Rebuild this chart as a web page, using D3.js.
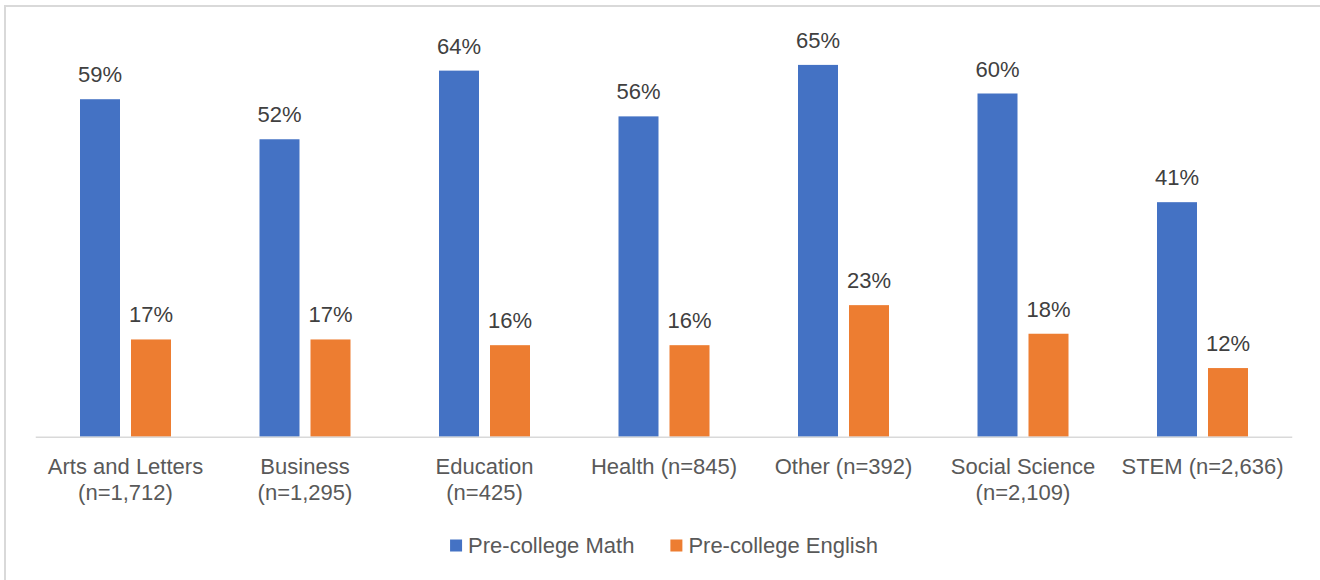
<!DOCTYPE html>
<html>
<head>
<meta charset="utf-8">
<script src="https://cdn.jsdelivr.net/npm/d3@7"></script>
<style>
  html, body { margin: 0; padding: 0; background: #fff; }
  svg { display: block; font-family: "Liberation Sans", Arial, sans-serif; }
</style>
</head>
<body>
<div id="chart"></div>
<script>
// catégories (deux lignes par étiquette)
const categories = ["Arts and Letters", "Business", "Education", "Health", "Other", "Social Science", "STEM"];
const catLabels = [
  ["Arts and Letters", "(n=1,712)"],
  ["Business", "(n=1,295)"],
  ["Education", "(n=425)"],
  ["Health (n=845)"],
  ["Other (n=392)"],
  ["Social Science", "(n=2,109)"],
  ["STEM (n=2,636)"]
];
const seriesNames = ["Pre-college Math", "Pre-college English"];
const mathValues = [59, 52, 64, 56, 65, 60, 41];
const englishValues = [17, 17, 16, 16, 23, 18, 12];
const colors = ["#4472C4", "#ED7D31"];

const width = 1320;
const height = 580;

let svg = d3.select("#chart")
  .append("svg")
  .attr("width", width)
  .attr("height", height);

// cadre gris clair (coupé à droite et en bas)
svg.append("rect")
  .attr("x", 5)
  .attr("y", 6)
  .attr("width", width + 20)
  .attr("height", height + 20)
  .attr("fill", "none")
  .attr("stroke", "#d9d9d9")
  .attr("stroke-width", 2);

let x0 = d3.scaleBand()
  .domain(categories)
  .range([35.75, 1292.25])
  .padding(0);

let x1 = d3.scaleBand()
  .domain(seriesNames)
  .range([0, 91])
  .paddingInner(0.2157)
  .paddingOuter(0);

let y = d3.scaleLinear()
  .domain([0, 70])
  .range([436.7, 36.3]);

let offset = (x0.bandwidth() - 91) / 2;

let rows = categories.map((c, i) => ({
  cat: c,
  values: [
    { key: seriesNames[0], value: mathValues[i] },
    { key: seriesNames[1], value: englishValues[i] }
  ]
}));

let groups = svg.append("g")
  .selectAll("g")
  .data(rows)
  .join("g")
  .attr("transform", d => `translate(${x0(d.cat) + offset},0)`);

groups.selectAll("rect")
  .data(d => d.values)
  .join("rect")
  .attr("x", d => x1(d.key))
  .attr("y", d => y(d.value))
  .attr("width", x1.bandwidth())
  .attr("height", d => y(0) - y(d.value))
  .attr("fill", (d, i) => colors[i]);

groups.selectAll("text")
  .data(d => d.values)
  .join("text")
  .attr("x", d => x1(d.key) + x1.bandwidth() / 2)
  .attr("y", d => y(d.value) - 17)
  .attr("text-anchor", "middle")
  .attr("fill", "#404040")
  .style("font-size", "22px")
  .text(d => d.value + "%");

// ligne de base
svg.append("line")
  .attr("x1", x0.range()[0])
  .attr("x2", x0.range()[1])
  .attr("y1", y(0) + 0.5)
  .attr("y2", y(0) + 0.5)
  .attr("stroke", "#d9d9d9")
  .attr("stroke-width", 1.5);

// étiquettes de l'axe
let axisText = svg.append("g")
  .selectAll("text")
  .data(categories)
  .join("text")
  .attr("x", d => x0(d) + x0.bandwidth() / 2)
  .attr("y", 474)
  .attr("text-anchor", "middle")
  .attr("fill", "#595959")
  .style("font-size", "22px");

axisText.selectAll("tspan")
  .data((d, i) => catLabels[i])
  .join("tspan")
  .attr("x", function () { return d3.select(this.parentNode).attr("x"); })
  .attr("dy", (d, i) => i === 0 ? 0 : 26)
  .text(d => d);

// légende
let legend = svg.append("g");
let items = legend.selectAll("g")
  .data(seriesNames)
  .join("g");

items.append("rect")
  .attr("width", 12)
  .attr("height", 12)
  .attr("y", 539.5)
  .attr("fill", (d, i) => colors[i]);

items.append("text")
  .attr("x", 18)
  .attr("y", 553)
  .attr("fill", "#595959")
  .style("font-size", "22px")
  .text(d => d);

let widths = [];
items.each(function () { widths.push(this.getBBox().width); });
let gap = 36;
let total = d3.sum(widths) + gap * (widths.length - 1);
let start = (x0.range()[0] + x0.range()[1]) / 2 - total / 2;
let pos = start;
items.attr("transform", (d, i) => {
  let t = `translate(${pos},0)`;
  pos += widths[i] + gap;
  return t;
});
</script>
</body>
</html>
